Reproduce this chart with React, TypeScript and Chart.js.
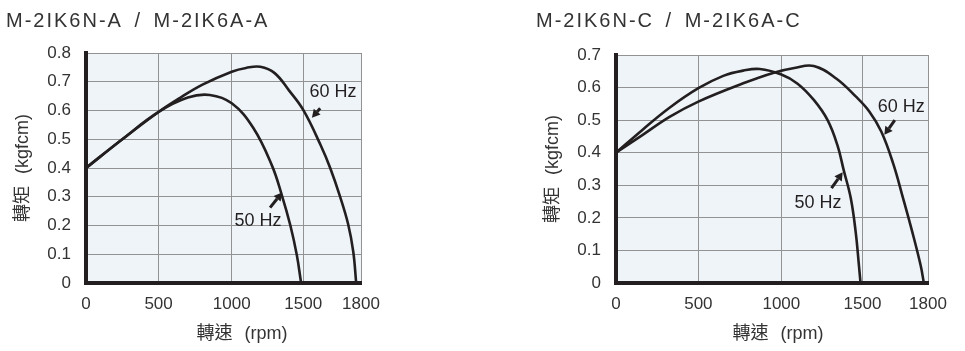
import React, { useEffect, useRef } from 'react';
import { Chart, registerables, LinearScale } from 'chart.js';

Chart.register(...registerables);

// ---------------- data ----------------
const X_TICKS = [0, 500, 1000, 1500, 1800];
const Y_TICKS_A = [0, 0.1, 0.2, 0.3, 0.4, 0.5, 0.6, 0.7, 0.8];
const Y_TICKS_C = [0, 0.1, 0.2, 0.3, 0.4, 0.5, 0.6, 0.7];

const A_50HZ_RPM = [0, 250, 500, 700, 850, 1000, 1150, 1280, 1350, 1410, 1455, 1485];
const A_50HZ_TORQUE = [0.4, 0.5, 0.595, 0.645, 0.654, 0.625, 0.54, 0.41, 0.306, 0.2, 0.097, 0];
const A_60HZ_RPM = [0, 250, 500, 650, 800, 1000, 1100, 1200, 1300, 1400, 1500, 1590, 1640, 1690, 1733, 1760, 1775];
const A_60HZ_TORQUE = [0.4, 0.5, 0.595, 0.645, 0.69, 0.735, 0.748, 0.752, 0.73, 0.67, 0.602, 0.48, 0.4, 0.303, 0.205, 0.108, 0];

const C_50HZ_RPM = [0, 160, 325, 500, 650, 770, 870, 1000, 1100, 1200, 1285, 1345, 1385, 1428, 1458, 1478, 1488];
const C_50HZ_TORQUE = [0.4, 0.47, 0.538, 0.598, 0.636, 0.652, 0.657, 0.64, 0.612, 0.562, 0.5, 0.424, 0.345, 0.26, 0.157, 0.055, 0];
const C_60HZ_RPM = [0, 160, 325, 500, 770, 950, 1080, 1200, 1338, 1460, 1532, 1586, 1640, 1686, 1728, 1766, 1781];
const C_60HZ_TORQUE = [0.4, 0.454, 0.51, 0.557, 0.613, 0.645, 0.66, 0.666, 0.628, 0.572, 0.526, 0.465, 0.368, 0.26, 0.157, 0.055, 0];

const TITLE_A = 'M-2IK6N-A / M-2IK6A-A';
const TITLE_C = 'M-2IK6N-C / M-2IK6A-C';
const Y_TITLE = '轉矩 (kgfcm)';
const X_TITLE = '轉速 (rpm)';
const LABEL_50 = '50 Hz';
const LABEL_60 = '60 Hz';

// ---------------- styling / layout ----------------
// The original drawing squeezes the last interval (1500-1800); fractions of axis length per tick.
const X_TICK_FRACTIONS = [0, 0.264, 0.53, 0.79, 1];
const INK = '#231f20';
const TEXT = '#333333';
const GRID = '#929292';
const PLOT_BG = '#eef4f8';
const LATIN = '"Liberation Sans", Arial, Helvetica, sans-serif';
const MIXED = '"Liberation Sans", Arial, "Noto Sans CJK TC", sans-serif';

function rpmToFraction(v: number): number {
  const b = X_TICKS, f = X_TICK_FRACTIONS;
  for (let i = 1; i < b.length; i++) {
    if (v <= b[i] || i === b.length - 1) {
      return f[i - 1] + ((v - b[i - 1]) / (b[i] - b[i - 1])) * (f[i] - f[i - 1]);
    }
  }
  return 0;
}
function fractionToRpm(d: number): number {
  const b = X_TICKS, f = X_TICK_FRACTIONS;
  for (let i = 1; i < f.length; i++) {
    if (d <= f[i] || i === f.length - 1) {
      return b[i - 1] + ((d - f[i - 1]) / (f[i] - f[i - 1])) * (b[i] - b[i - 1]);
    }
  }
  return 0;
}

class PiecewiseLinearScale extends LinearScale {
  getPixelForValue(value: any) {
    if (value === null || value === undefined || Number.isNaN(+value)) return NaN;
    return this.getPixelForDecimal(rpmToFraction(+value));
  }
  getValueForPixel(pixel: number) {
    return fractionToRpm(this.getDecimalForPixel(pixel));
  }
}
(PiecewiseLinearScale as any).id = 'piecewiseLinear';
(PiecewiseLinearScale as any).defaults = {};
Chart.register(PiecewiseLinearScale as any);

const toPoints = (xs: number[], ys: number[]) => xs.map((x, i) => ({ x, y: ys[i] }));

type Note = { text: string; x: number; y: number; tailX: number; tailY: number; headX: number; headY: number };

const PANELS = [
  {
    key: 'A',
    left: 0,
    width: 480,
    padTop: 53,
    padRight: 119,
    title: TITLE_A,
    yMax: 0.8,
    yTicks: Y_TICKS_A,
    s50: toPoints(A_50HZ_RPM, A_50HZ_TORQUE),
    s60: toPoints(A_60HZ_RPM, A_60HZ_TORQUE),
    xTitleX: 242,
    notes: [
      { text: LABEL_60, x: 1655, y: 0.665, tailX: 1588, tailY: 0.608, headX: 1545, headY: 0.575 },
      { text: LABEL_50, x: 1183, y: 0.216, tailX: 1268, tailY: 0.262, headX: 1352, headY: 0.315 },
    ] as Note[],
  },
  {
    key: 'C',
    left: 530,
    width: 435,
    padTop: 55,
    padRight: 37,
    title: TITLE_C,
    yMax: 0.7,
    yTicks: Y_TICKS_C,
    s50: toPoints(C_50HZ_RPM, C_50HZ_TORQUE),
    s60: toPoints(C_60HZ_RPM, C_60HZ_TORQUE),
    xTitleX: 248,
    notes: [
      { text: LABEL_60, x: 1678, y: 0.54, tailX: 1648, tailY: 0.5, headX: 1600, headY: 0.455 },
      { text: LABEL_50, x: 1226, y: 0.246, tailX: 1309, tailY: 0.291, headX: 1378, headY: 0.34 },
    ] as Note[],
  },
];

const decorPlugin = {
  id: 'decor',
  beforeDraw(chart: any) {
    const { ctx, chartArea } = chart;
    ctx.save();
    ctx.fillStyle = PLOT_BG;
    ctx.fillRect(chartArea.left, chartArea.top, chartArea.right - chartArea.left, chartArea.bottom - chartArea.top);
    ctx.restore();
  },
  afterDraw(chart: any, _args: any, opts: any) {
    const { ctx, chartArea, scales } = chart;
    const xs = scales.x, ys = scales.y;
    ctx.save();
    // panel title
    ctx.fillStyle = TEXT;
    ctx.font = `20px ${LATIN}`;
    ctx.textAlign = 'left';
    ctx.textBaseline = 'alphabetic';
    try { (ctx as any).letterSpacing = '2px'; (ctx as any).wordSpacing = '4px'; } catch (e) {}
    ctx.fillText(opts.title, 6, 27);
    try { (ctx as any).letterSpacing = '0px'; (ctx as any).wordSpacing = '7px'; } catch (e) {}

    // axis titles
    ctx.font = `18px ${MIXED}`;
    ctx.textAlign = 'center';
    ctx.textBaseline = 'middle';
    ctx.fillText(opts.xTitle, opts.xTitleX, 334);
    ctx.save();
    ctx.translate(23, (chartArea.top + chartArea.bottom) / 2);
    ctx.rotate(-Math.PI / 2);
    ctx.fillText(opts.yTitle, 0, 0);
    ctx.restore();
    try { (ctx as any).wordSpacing = '0px'; } catch (e) {}

    // frequency labels with arrows
    ctx.fillStyle = INK;
    ctx.strokeStyle = INK;
    ctx.font = `18px ${LATIN}`;
    for (const n of opts.notes as Note[]) {
      ctx.fillText(n.text, xs.getPixelForValue(n.x), ys.getPixelForValue(n.y));
      const tx = xs.getPixelForValue(n.tailX), ty = ys.getPixelForValue(n.tailY);
      const hx = xs.getPixelForValue(n.headX), hy = ys.getPixelForValue(n.headY);
      const ang = Math.atan2(hy - ty, hx - tx);
      const len = 8, half = 4.5;
      const bx = hx - Math.cos(ang) * len, by = hy - Math.sin(ang) * len;
      ctx.lineWidth = 3;
      ctx.beginPath();
      ctx.moveTo(tx, ty);
      ctx.lineTo(bx, by);
      ctx.stroke();
      ctx.beginPath();
      ctx.moveTo(hx, hy);
      ctx.lineTo(bx + Math.sin(ang) * half, by - Math.cos(ang) * half);
      ctx.lineTo(bx - Math.sin(ang) * half, by + Math.cos(ang) * half);
      ctx.closePath();
      ctx.fill();
    }
    ctx.restore();
  },
};

function Panel({ cfg }: { cfg: (typeof PANELS)[number] }) {
  const ref = useRef<HTMLCanvasElement>(null);
  useEffect(() => {
    if (!ref.current) return;
    const line = (data: any[]) => ({
      data,
      borderColor: INK,
      borderWidth: 2.6,
      pointRadius: 0,
      fill: false,
      tension: 0.4,
    });
    const chart = new Chart(ref.current, {
      type: 'line',
      data: {
        datasets: [
          { label: LABEL_50, ...line(cfg.s50) },
          { label: LABEL_60, ...line(cfg.s60) },
        ],
      },
      plugins: [decorPlugin],
      options: {
        animation: false,
        responsive: false,
        maintainAspectRatio: false,
        layout: { padding: { top: cfg.padTop, right: cfg.padRight, left: 0, bottom: 0 } },
        plugins: {
          legend: { display: false },
          tooltip: { enabled: false },
          decor: { title: cfg.title, xTitle: X_TITLE, yTitle: Y_TITLE, xTitleX: cfg.xTitleX, notes: cfg.notes },
        } as any,
        scales: {
          x: {
            type: 'piecewiseLinear' as any,
            min: 0,
            max: 1800,
            afterBuildTicks: (s: any) => { s.ticks = X_TICKS.map((value) => ({ value })); },
            afterFit: (s: any) => { s.height = 68; },
            grid: { color: GRID, lineWidth: 1, drawTicks: false },
            border: { color: INK, width: 4 },
            ticks: {
              padding: 11,
              color: TEXT,
              font: { size: 17, family: LATIN },
              maxRotation: 0,
              autoSkip: false,
              callback: (v: any) => String(v),
            },
          } as any,
          y: {
            type: 'linear',
            min: 0,
            max: cfg.yMax,
            afterBuildTicks: (s: any) => { s.ticks = cfg.yTicks.map((value) => ({ value })); },
            afterFit: (s: any) => { s.width = 86; },
            grid: { color: GRID, lineWidth: 1, drawTicks: false },
            border: { color: INK, width: 4 },
            ticks: {
              padding: 15,
              color: TEXT,
              font: { size: 17, family: LATIN },
              autoSkip: false,
              callback: (v: any) => (Number(v) === 0 ? '0' : Number(v).toFixed(1)),
            },
          },
        },
      },
    });
    return () => chart.destroy();
  }, [cfg]);
  return (
    <div style={{ position: 'absolute', left: cfg.left, top: 0, width: cfg.width, height: 351 }}>
      <canvas ref={ref} width={cfg.width} height={351} style={{ display: 'block', width: cfg.width, height: 351 }} />
    </div>
  );
}

export default function App() {
  return (
    <div style={{ position: 'fixed', left: 0, top: 0, width: 965, height: 351, background: '#ffffff' }}>
      {PANELS.map((p) => (
        <Panel key={p.key} cfg={p} />
      ))}
    </div>
  );
}
